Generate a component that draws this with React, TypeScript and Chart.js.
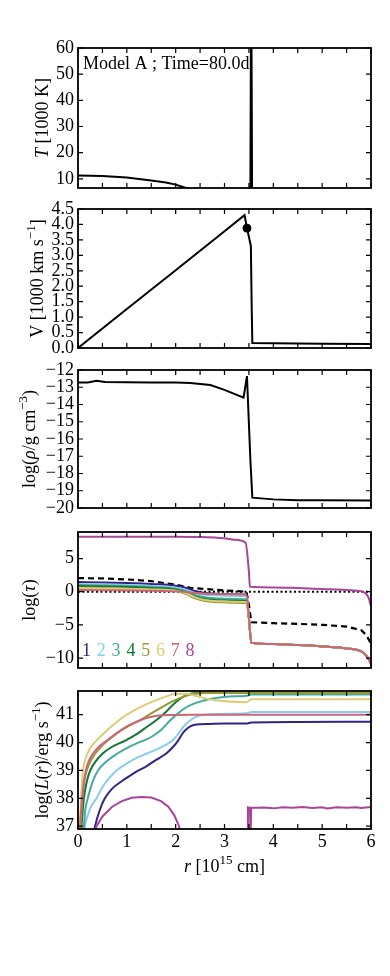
import React, { useEffect, useRef } from 'react';
import { Chart, registerables } from 'chart.js';
Chart.register(...registerables);

const FONT = '"Liberation Serif", "Times New Roman", "DejaVu Serif", serif';

// ---------------- data ----------------
const X_TICKS = [0, 0.5, 1, 1.5, 2, 2.5, 3, 3.5, 4, 4.5, 5, 5.5, 6];
const X_LABEL_TICKS = [0, 1, 2, 3, 4, 5, 6];

// Temperature [1000 K]
const T_R = [0, 0.5, 1.0, 1.5, 1.8, 2.0, 2.2, 2.4, 3.0, 3.53, 3.543, 3.55, 3.557, 3.565, 4.0, 5.0, 6.0];
const T_VAL = [11.3, 11.1, 10.5, 9.4, 8.6, 7.8, 6.6, 5.5, 4.5, 4.3, 75, 90, 60, 4, 3.5, 3, 2.5];
const T_TICKS = [10, 20, 30, 40, 50, 60];

// Velocity [1000 km/s]
const V_R = [0, 1, 2, 3, 3.41, 3.46, 3.52, 3.54, 3.555, 3.57, 4.0, 5.0, 6.0];
const V_VAL = [0, 1.26, 2.52, 3.78, 4.3, 3.88, 3.45, 3.3, 1.5, 0.16, 0.15, 0.14, 0.13];
const DOT_R = [3.46];
const DOT_V = [3.88];
const V_TICKS = [0, 0.5, 1, 1.5, 2, 2.5, 3, 3.5, 4, 4.5];

// log density
const RHO_R = [0, 0.2, 0.38, 0.55, 1.0, 1.5, 2.0, 2.3, 2.71, 3.0, 3.39, 3.46, 3.53, 3.57, 4.0, 4.5, 5.0, 6.0];
const RHO_VAL = [-12.72, -12.72, -12.62, -12.7, -12.71, -12.72, -12.73, -12.76, -12.87, -13.15, -13.6, -12.35, -17.2, -19.4, -19.5, -19.55, -19.55, -19.56];
const RHO_TICKS = [-20, -19, -18, -17, -16, -15, -14, -13, -12];

// log optical depth, bands 1-7 share the radius grid
const TAU_R = [0, 0.5, 1.0, 1.5, 2.0, 2.2, 2.4, 2.6, 2.8, 3.0, 3.2, 3.45, 3.5, 3.55, 4.0, 4.5, 5.0, 5.5, 5.8, 5.9, 6.0];
const TAU_1 = [1.45, 1.4, 1.3, 1.15, 0.9, 0.6, 0.1, -0.2, -0.3, -0.35, -0.4, -0.45, -4, -7.7, -7.9, -8.05, -8.25, -8.55, -9.0, -9.6, -10.8];
const TAU_2 = [1.15, 1.1, 1.0, 0.85, 0.6, 0.3, -0.2, -0.45, -0.55, -0.6, -0.65, -0.7, -4, -7.7, -7.9, -8.05, -8.25, -8.55, -9.0, -9.6, -10.8];
const TAU_3 = [1.0, 0.95, 0.85, 0.7, 0.45, 0.1, -0.5, -0.85, -1.0, -1.05, -1.1, -1.15, -4, -7.7, -7.9, -8.05, -8.25, -8.55, -9.0, -9.6, -10.8];
const TAU_4 = [0.85, 0.8, 0.7, 0.55, 0.3, -0.1, -0.75, -1.1, -1.25, -1.3, -1.35, -1.4, -4, -7.7, -7.9, -8.05, -8.25, -8.55, -9.0, -9.6, -10.8];
const TAU_5 = [0.6, 0.55, 0.45, 0.3, 0.1, -0.3, -1.0, -1.4, -1.55, -1.6, -1.65, -1.7, -4, -7.7, -7.9, -8.05, -8.25, -8.55, -9.0, -9.6, -10.8];
const TAU_6 = [0.55, 0.5, 0.45, 0.35, 0.15, -0.2, -0.85, -1.25, -1.4, -1.45, -1.5, -1.55, -4, -7.7, -7.9, -8.05, -8.25, -8.55, -9.0, -9.6, -10.8];
const TAU_7 = [0.25, 0.22, 0.2, 0.15, 0.05, -0.05, -0.2, -0.3, -0.35, -0.38, -0.4, -0.45, -4, -7.7, -7.9, -8.05, -8.25, -8.55, -9.0, -9.6, -10.8];
const TAU_8_R = [0, 1, 2, 2.5, 3, 3.2, 3.43, 3.5, 3.52, 4, 4.5, 5, 5.5, 5.8, 5.9, 5.95, 6];
const TAU_8 = [8.3, 8.3, 8.3, 8.25, 8.05, 7.85, 7.4, 3, 0.75, 0.65, 0.55, 0.4, 0.25, 0.05, -0.3, -0.9, -2.2];
const TAU_DASH_R = [0, 0.5, 1, 1.5, 2, 2.3, 2.6, 3, 3.45, 3.5, 3.55, 4, 4.5, 5, 5.5, 5.8, 5.9, 6];
const TAU_DASH = [2.05, 2.0, 1.85, 1.6, 1.05, 0.6, 0.4, 0.2, 0.0, -2, -4.6, -4.75, -4.85, -5.0, -5.25, -5.8, -6.5, -7.8];
const TAU_DOT_R = [0, 6];
const TAU_DOT = [0, 0];
const TAU_TICKS = [-10, -5, 0, 5];

// log luminosity, bands 1-8
const L1_R = [0.3, 0.35, 0.45, 0.55, 0.7, 0.9, 1.1, 1.24, 1.4, 1.6, 1.8, 1.95, 2.05, 2.15, 2.25, 2.35, 2.5, 2.7, 3.0, 3.45, 3.55, 4.5, 6.0];
const L1 = [36.5, 37.0, 37.6, 38.0, 38.35, 38.62, 38.85, 39.0, 39.15, 39.38, 39.6, 39.85, 40.07, 40.35, 40.52, 40.62, 40.66, 40.67, 40.68, 40.68, 40.72, 40.74, 40.75];
const L2_R = [0.1, 0.14, 0.2, 0.28, 0.38, 0.5, 0.65, 0.79, 1.0, 1.2, 1.4, 1.6, 1.8, 1.93, 2.05, 2.15, 2.3, 2.45, 2.6, 3.0, 3.45, 3.55, 6.0];
const L2 = [36.5, 37.0, 37.4, 37.75, 38.0, 38.4, 38.75, 39.0, 39.25, 39.45, 39.6, 39.75, 39.92, 40.07, 40.3, 40.55, 40.8, 40.95, 41.0, 41.03, 41.05, 41.1, 41.1];
const L3_R = [0.08, 0.12, 0.15, 0.2, 0.3, 0.41, 0.6, 0.8, 1.0, 1.2, 1.34, 1.5, 1.7, 1.89, 2.05, 2.2, 2.35, 2.5, 2.7, 2.9, 3.1, 3.45, 3.55, 6.0];
const L3 = [36.5, 37.0, 37.6, 38.0, 38.6, 39.0, 39.35, 39.6, 39.8, 39.97, 40.07, 40.2, 40.45, 40.8, 41.05, 41.25, 41.38, 41.47, 41.56, 41.62, 41.65, 41.68, 41.72, 41.72];
const L4_R = [0.05, 0.08, 0.12, 0.18, 0.25, 0.35, 0.5, 0.7, 0.97, 1.2, 1.4, 1.6, 1.8, 2.0, 2.24, 2.4, 2.6, 6.0];
const L4 = [36.5, 37.2, 38.0, 38.6, 39.0, 39.3, 39.6, 39.85, 40.07, 40.3, 40.55, 40.8, 41.1, 41.45, 41.72, 41.77, 41.78, 41.78];
const L5_R = [0.04, 0.06, 0.1, 0.15, 0.22, 0.35, 0.5, 0.7, 0.9, 1.1, 1.27, 1.5, 1.7, 1.9, 2.16, 2.4, 2.6, 6.0];
const L5 = [36.5, 37.2, 38.2, 38.8, 39.2, 39.6, 39.9, 40.2, 40.45, 40.65, 40.8, 41.05, 41.25, 41.45, 41.65, 41.75, 41.78, 41.78];
const L6_R = [0.02, 0.04, 0.08, 0.1, 0.15, 0.25, 0.38, 0.6, 0.8, 1.0, 1.2, 1.5, 1.8, 2.0, 2.2, 2.4, 2.7, 3.0, 3.45, 3.55, 6.0];
const L6 = [36.5, 37.2, 38.5, 39.0, 39.4, 39.8, 40.07, 40.45, 40.75, 41.0, 41.2, 41.45, 41.65, 41.75, 41.75, 41.68, 41.55, 41.48, 41.45, 41.55, 41.55];
const L7_R = [0.03, 0.05, 0.1, 0.16, 0.25, 0.4, 0.59, 0.8, 1.0, 1.2, 1.4, 1.62, 1.9, 2.3, 3.45, 3.55, 6.0];
const L7 = [36.5, 37.2, 38.3, 39.0, 39.45, 39.8, 40.07, 40.35, 40.58, 40.75, 40.88, 40.96, 40.99, 41.0, 41.0, 41.0, 41.0];
const L8_R = [0.3, 0.38, 0.5, 0.7, 0.9, 1.1, 1.3, 1.5, 1.7, 1.85, 1.97, 2.07, 2.12, 3.47, 3.48, 3.52, 3.535, 3.545, 3.7, 3.8, 4.0, 4.2, 4.4, 4.6, 4.8, 5.0, 5.1, 5.3, 5.5, 5.7, 5.8, 6.0];
const L8 = [36.5, 37.0, 37.35, 37.7, 37.9, 38.02, 38.05, 38.03, 37.9, 37.7, 37.4, 37.0, 36.5, 36.5, 37.68, 37.66, 36.6, 37.66, 37.66, 37.67, 37.64, 37.68, 37.66, 37.69, 37.65, 37.68, 37.64, 37.68, 37.66, 37.68, 37.65, 37.69];
const L_TICKS = [37, 38, 39, 40, 41];

const BAND_LABELS = ['1', '2', '3', '4', '5', '6', '7', '8'];
const BAND_COLORS = ['#332288', '#88CCEE', '#44AA99', '#117733', '#999933', '#DDCC77', '#CC6677', '#AA4499'];

const ANNOTATION = 'Model A ; Time=80.0d';

// ---------------- helpers ----------------
type Seg = { t: string; i?: boolean; sup?: boolean };

function pts(xs: number[], ys: number[]) {
  return xs.map((x, k) => ({ x, y: ys[k] }));
}
function line(xs: number[], ys: number[], color: string, extra: any = {}) {
  return {
    type: 'line',
    data: pts(xs, ys),
    borderColor: color,
    backgroundColor: color,
    borderWidth: 2,
    pointRadius: 0,
    fill: false,
    tension: 0,
    ...extra,
  };
}
const SMOOTH = { cubicInterpolationMode: 'monotone' };
// later datasets are painted on top (as in the original plot)
function stackOrder(ds: any[]) {
  return ds.map((d, k) => ({ ...d, order: ds.length - k }));
}
const minus = (v: number, digits = 0) => {
  const s = Math.abs(v).toFixed(digits);
  return v < 0 ? '\u2212' + s : s;
};

const TEXT_SIZE = 18;
const TICK_FONT = 18;

function drawRich(ctx: CanvasRenderingContext2D, segs: Seg[], x: number, y: number, size: number, rotate: boolean) {
  ctx.save();
  ctx.translate(x, y);
  if (rotate) ctx.rotate(-Math.PI / 2);
  const fontFor = (s: Seg) => `${s.i ? 'italic ' : ''}${s.sup ? Math.round(size * 0.7) : size}px ${FONT}`;
  let total = 0;
  for (const s of segs) {
    ctx.font = fontFor(s);
    total += ctx.measureText(s.t).width;
  }
  let cx = -total / 2;
  ctx.fillStyle = '#000';
  ctx.textAlign = 'left';
  ctx.textBaseline = 'alphabetic';
  const base = size * 0.33;
  for (const s of segs) {
    ctx.font = fontFor(s);
    ctx.fillText(s.t, cx, s.sup ? base - size * 0.42 : base);
    cx += ctx.measureText(s.t).width;
  }
  ctx.restore();
}

interface PanelSpec {
  top: number;
  bottom: number;
  ymin: number;
  ymax: number;
  yTicks: number[];
  fmt: (v: number) => string;
  title: Seg[];
  titleX: number;
  datasets: any[];
  showX: boolean;
  extra?: (ctx: CanvasRenderingContext2D, chart: any) => void;
}

const PAD = 15;
const X_AXIS_H = 50;
const LEFT = 78;
const RIGHT_PAD = 19;

const PANELS: PanelSpec[] = [
  {
    top: 48, bottom: 188, ymin: 6.5, ymax: 60, yTicks: T_TICKS, fmt: (v) => minus(v),
    title: [{ t: 'T', i: true }, { t: ' [1000 K]' }], titleX: 42,
    datasets: [line(T_R, T_VAL, '#000')],
    showX: false,
    extra: (ctx, chart) => {
      const { left, top } = chart.chartArea;
      ctx.save();
      ctx.font = `${TEXT_SIZE}px ${FONT}`;
      ctx.fillStyle = '#000';
      ctx.textAlign = 'left';
      ctx.textBaseline = 'alphabetic';
      ctx.fillText(ANNOTATION, left + 5, top + 21);
      ctx.restore();
    },
  },
  {
    top: 209, bottom: 348, ymin: 0, ymax: 4.5, yTicks: V_TICKS, fmt: (v) => minus(v, 1),
    title: [{ t: 'V [1000 km s' }, { t: '\u22121', sup: true }, { t: ']' }], titleX: 37,
    datasets: [
      line(V_R, V_VAL, '#000'),
      { type: 'scatter', data: pts(DOT_R, DOT_V), backgroundColor: '#000', borderColor: '#000', pointRadius: 4, showLine: false },
    ],
    showX: false,
  },
  {
    top: 370, bottom: 508, ymin: -20, ymax: -12, yTicks: RHO_TICKS, fmt: (v) => minus(v),
    title: [{ t: 'log(' }, { t: '\u03C1', i: true }, { t: '/g cm' }, { t: '\u22123', sup: true }, { t: ')' }], titleX: 29,
    datasets: [line(RHO_R, RHO_VAL, '#000')],
    showX: false,
  },
  {
    top: 532, bottom: 668, ymin: -11.5, ymax: 9, yTicks: TAU_TICKS, fmt: (v) => minus(v),
    title: [{ t: 'log(' }, { t: '\u03C4', i: true }, { t: ')' }], titleX: 29,
    datasets: [
      line(TAU_DOT_R, TAU_DOT, '#000', { borderWidth: 2, borderDash: [2, 2.5] }),
      line(TAU_DASH_R, TAU_DASH, '#000', { borderWidth: 2.2, borderDash: [6, 4] }),
      line(TAU_R, TAU_1, BAND_COLORS[0], SMOOTH),
      line(TAU_R, TAU_2, BAND_COLORS[1], SMOOTH),
      line(TAU_R, TAU_3, BAND_COLORS[2], SMOOTH),
      line(TAU_R, TAU_4, BAND_COLORS[3], SMOOTH),
      line(TAU_R, TAU_5, BAND_COLORS[4], SMOOTH),
      line(TAU_R, TAU_6, BAND_COLORS[5], SMOOTH),
      line(TAU_R, TAU_7, BAND_COLORS[6], SMOOTH),
      line(TAU_8_R, TAU_8, BAND_COLORS[7], SMOOTH),
    ],
    showX: false,
    extra: (ctx, chart) => {
      const { left, bottom } = chart.chartArea;
      ctx.save();
      ctx.font = `${TEXT_SIZE}px ${FONT}`;
      ctx.textAlign = 'left';
      ctx.textBaseline = 'alphabetic';
      BAND_LABELS.forEach((lab, k) => {
        ctx.fillStyle = BAND_COLORS[k];
        ctx.fillText(lab, left + 4 + k * 14.8, bottom - 12);
      });
      ctx.restore();
    },
  },
  {
    top: 691, bottom: 829, ymin: 36.9, ymax: 41.85, yTicks: L_TICKS, fmt: (v) => minus(v),
    title: [{ t: 'log(' }, { t: 'L', i: true }, { t: '(' }, { t: 'r', i: true }, { t: ')/erg s' }, { t: '\u22121', sup: true }, { t: ')' }], titleX: 42,
    datasets: [
      line(L1_R, L1, BAND_COLORS[0], SMOOTH),
      line(L2_R, L2, BAND_COLORS[1], SMOOTH),
      line(L3_R, L3, BAND_COLORS[2], SMOOTH),
      line(L4_R, L4, BAND_COLORS[3], SMOOTH),
      line(L5_R, L5, BAND_COLORS[4], SMOOTH),
      line(L6_R, L6, BAND_COLORS[5], SMOOTH),
      line(L7_R, L7, BAND_COLORS[6], SMOOTH),
      line(L8_R, L8, BAND_COLORS[7]),
    ],
    showX: true,
    extra: (ctx, chart) => {
      const { left, right, bottom } = chart.chartArea;
      drawRich(ctx, [{ t: 'r', i: true }, { t: ' [10' }, { t: '15', sup: true }, { t: ' cm]' }], (left + right) / 2, bottom + 37, TEXT_SIZE, false);
    },
  },
];

function canvasHeight(p: PanelSpec) {
  return p.bottom - p.top + PAD + (p.showX ? X_AXIS_H + 5 : PAD);
}

function Panel({ spec }: { spec: PanelSpec }) {
  const ref = useRef<HTMLCanvasElement | null>(null);
  useEffect(() => {
    if (!ref.current) return;
    const p = spec;
    const framePlugin = {
      id: 'frame',
      afterDraw(chart: any) {
        const ctx: CanvasRenderingContext2D = chart.ctx;
        const { left, right, top, bottom } = chart.chartArea;
        const xs = chart.scales.x;
        const ys = chart.scales.y;
        ctx.save();
        ctx.strokeStyle = '#000';
        ctx.lineWidth = 1.2;
        ctx.beginPath();
        for (const v of X_TICKS) {
          const px = xs.getPixelForValue(v);
          ctx.moveTo(px, bottom); ctx.lineTo(px, bottom - 5);
          ctx.moveTo(px, top); ctx.lineTo(px, top + 5);
        }
        for (const v of p.yTicks) {
          const py = ys.getPixelForValue(v);
          ctx.moveTo(left, py); ctx.lineTo(left + 5, py);
          ctx.moveTo(right, py); ctx.lineTo(right - 5, py);
        }
        ctx.stroke();
        ctx.lineWidth = 1.8;
        ctx.strokeRect(left, top, right - left, bottom - top);
        ctx.restore();
        drawRich(ctx, p.title, p.titleX, (top + bottom) / 2, TEXT_SIZE, true);
        if (p.extra) p.extra(ctx, chart);
      },
    };
    const chart = new Chart(ref.current, {
      type: 'line',
      data: { datasets: stackOrder(p.datasets) as any },
      options: {
        responsive: false,
        animation: false,
        devicePixelRatio: 1,
        events: [],
        layout: { padding: { left: 0, right: RIGHT_PAD, top: PAD, bottom: p.showX ? 5 : PAD } },
        plugins: { legend: { display: false }, tooltip: { enabled: false }, title: { display: false } },
        scales: {
          x: {
            type: 'linear',
            min: 0,
            max: 6,
            display: p.showX,
            grid: { display: false, drawTicks: false },
            border: { display: false },
            ticks: { font: { family: FONT, size: TICK_FONT }, color: '#000', padding: 2, maxRotation: 0, autoSkip: false, callback: (v: any) => minus(Number(v)) },
            afterBuildTicks: (s: any) => { s.ticks = X_LABEL_TICKS.map((v) => ({ value: v })); },
            afterFit: (s: any) => { s.height = p.showX ? X_AXIS_H : 0; },
          },
          y: {
            type: 'linear',
            min: p.ymin,
            max: p.ymax,
            grid: { display: false, drawTicks: false },
            border: { display: false },
            ticks: { font: { family: FONT, size: TICK_FONT }, color: '#000', padding: 4, autoSkip: false, callback: (v: any) => p.fmt(Number(v)) },
            afterBuildTicks: (s: any) => { s.ticks = p.yTicks.map((v) => ({ value: v })); },
            afterFit: (s: any) => { s.width = LEFT; },
          },
        },
      } as any,
      plugins: [framePlugin],
    });
    return () => chart.destroy();
  }, [spec]);
  const h = canvasHeight(spec);
  return (
    <canvas
      ref={ref}
      width={390}
      height={h}
      style={{ position: 'absolute', left: 0, top: spec.top - PAD, width: 390, height: h }}
    />
  );
}

export default function App() {
  return (
    <div style={{ position: 'absolute', left: 0, top: 0, width: 390, height: 976, background: '#fff' }}>
      {PANELS.map((p, k) => (
        <Panel key={k} spec={p} />
      ))}
    </div>
  );
}
